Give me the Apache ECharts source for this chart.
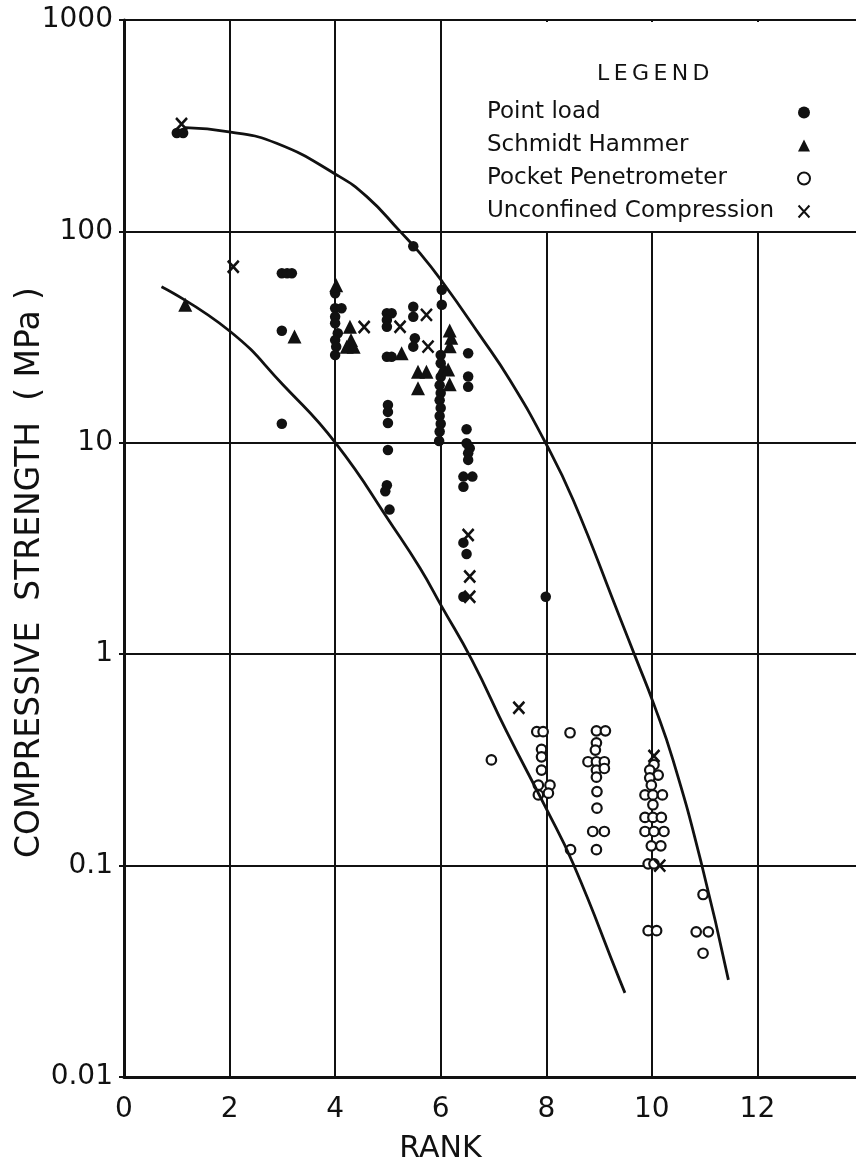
<!DOCTYPE html>
<html>
<head>
<meta charset="utf-8">
<title>Compressive strength vs rank</title>
<script src="https://cdn.jsdelivr.net/npm/echarts@6/dist/echarts.min.js"></script>
<style>
  html, body { margin: 0; padding: 0; background: #fff; }
  #chart { width: 856px; height: 1171px; }
</style>
</head>
<body>
<div id="chart"></div>
<script>
// [rank, strength MPa]
const pointLoad = [
  [1.0, 292], [1.12, 292],
  [2.99, 63.4], [3.09, 63.4], [3.18, 63.4], [2.99, 33.9], [2.99, 12.3],
  [4.0, 51], [4.0, 43.3], [4.12, 43.3], [4.0, 39.5], [4.0, 36.8], [4.05, 33], [4.0, 30.6], [4.02, 28.5], [4.0, 26],
  [4.98, 41], [5.07, 41], [4.98, 38.1], [4.98, 35.4], [4.98, 25.5], [5.07, 25.5], [5.0, 15.1], [5.0, 14.0],
  [5.0, 12.4], [5.0, 9.25], [4.98, 6.3], [4.95, 5.9], [5.03, 4.83],
  [5.48, 85], [5.48, 44], [5.48, 39.5], [5.51, 31.2], [5.48, 28.5],
  [6.02, 53], [6.02, 45], [6.0, 26], [6.0, 23.8], [6.0, 20.5], [5.98, 18.7], [6.0, 17.2], [5.98, 15.9],
  [6.0, 14.6], [5.98, 13.4], [6.0, 12.3], [5.98, 11.3], [5.97, 10.2],
  [6.52, 26.5], [6.52, 20.6], [6.52, 18.4], [6.49, 11.6], [6.49, 9.96], [6.55, 9.42], [6.52, 8.92], [6.52, 8.3],
  [6.43, 6.92], [6.6, 6.92], [6.43, 6.2], [6.43, 3.37], [6.49, 2.98], [6.43, 1.87],
  [7.99, 1.87],
];
const schmidtHammer = [
  [1.16, 45], [3.23, 31.8], [4.02, 55.7], [4.28, 35.4], [4.3, 30.6], [4.22, 28.5], [4.35, 28.5],
  [5.26, 26.5], [5.57, 21.7], [5.73, 21.7], [5.57, 18.1],
  [6.17, 34], [6.2, 31.4], [6.17, 28.6], [6.05, 22.6], [6.14, 22.2], [6.17, 18.9],
];
const pocketPenetrometer = [
  [6.96, 0.316], [7.82, 0.43], [7.94, 0.43], [8.45, 0.425], [7.91, 0.355], [7.91, 0.327], [7.91, 0.283],
  [7.85, 0.24], [8.07, 0.24], [7.85, 0.216], [8.04, 0.22], [8.46, 0.119],
  [8.95, 0.434], [9.12, 0.434], [8.95, 0.381], [8.93, 0.352], [8.79, 0.31], [8.95, 0.31], [9.1, 0.31],
  [8.95, 0.283], [9.1, 0.288], [8.95, 0.262], [8.96, 0.224], [8.96, 0.187], [8.88, 0.145], [9.1, 0.145], [8.95, 0.119],
  [10.04, 0.3], [9.96, 0.283], [10.12, 0.268], [9.96, 0.26], [9.99, 0.24], [9.87, 0.216], [10.02, 0.216],
  [10.2, 0.216], [10.02, 0.194], [9.87, 0.169], [10.02, 0.169], [10.18, 0.169], [9.87, 0.145], [10.04, 0.145],
  [10.23, 0.145], [9.99, 0.124], [10.17, 0.124], [9.93, 0.102], [10.04, 0.102], [9.93, 0.0492], [10.09, 0.0492],
  [10.97, 0.073], [10.84, 0.0486], [11.07, 0.0486], [10.97, 0.0385],
];
const unconfinedCompression = [
  [1.09, 322], [2.07, 68], [4.55, 35.3], [5.23, 35.4], [5.73, 40.3], [5.76, 28.5],
  [6.52, 3.66], [6.55, 2.33], [6.55, 1.87], [7.48, 0.558], [10.04, 0.33], [10.15, 0.1],
];
// envelope curves
const upperCurve = [
  [1.16, 310], [1.99, 296], [2.89, 261], [4.03, 185], [4.6, 146], [5.23, 100], [5.61, 78.7], [6.03, 57.8],
  [6.74, 32.3], [7.31, 19.8], [7.99, 9.95], [8.51, 5.36], [9.39, 1.5], [9.71, 0.94], [10.03, 0.587],
  [10.4, 0.316], [10.94, 0.102], [11.45, 0.0288],
];
const lowerCurve = [
  [0.71, 54.7], [2.0, 33.8], [3.02, 18.7], [4.01, 9.96], [5.1, 4.0], [5.61, 2.55],
  [6.02, 1.68], [6.59, 0.94], [7.25, 0.43], [7.98, 0.19], [8.51, 0.102], [9.39, 0.0288], [9.49, 0.025],
];
const legendNames = ['Point load', 'Schmidt Hammer', 'Pocket Penetrometer', 'Unconfined Compression'];
const xTicks = [0, 2, 4, 6, 8, 10, 12];

const ink = '#111111';
const font = 'DejaVu Sans';
const crossPath = 'path://M0,0L10,11M10,0L0,11';

const chart = echarts.init(document.getElementById('chart'));

const option = {
  animation: false,
  backgroundColor: '#fff',
  title: {
    text: 'L\u2009E\u2009G\u2009E\u2009N\u2009D',
    left: 597,
    top: 63,
    padding: 0,
    textStyle: { fontFamily: font, fontSize: 22, fontWeight: 'normal', color: ink },
  },
  legend: {
    data: legendNames,
    orient: 'vertical',
    align: 'right', // 图标在文字右边
    left: 478,
    top: 22,
    padding: [79, 50, 8, 9],
    backgroundColor: '#fff',
    itemWidth: 12,
    itemHeight: 12,
    itemGap: 10,
    selectedMode: false,
    formatter: (name) => '{t|' + name + '}',
    textStyle: {
      rich: {
        t: { width: 306, align: 'left', fontFamily: font, fontSize: 23, lineHeight: 24, color: ink },
      },
    },
  },
  grid: {
    left: 124,
    top: 20,
    width: 739, // x 0..14, right edge cut by the page
    height: 1057,
    containLabel: false,
    outerBoundsMode: 'none',
  },
  xAxis: {
    type: 'value',
    min: 0,
    max: 14,
    interval: 2,
    name: 'RANK',
    nameLocation: 'middle',
    nameGap: 57,
    nameMoveOverlap: false,
    nameTextStyle: { fontFamily: font, fontSize: 30, color: ink, padding: [0, 106, 0, 0] },
    axisLine: { lineStyle: { color: ink, width: 3 } },
    axisTick: { show: false },
    axisLabel: {
      margin: 19,
      fontFamily: font,
      fontSize: 28,
      color: ink,
      formatter: (v) => (xTicks.indexOf(v) >= 0 ? String(v) : ''),
    },
    splitLine: { show: true, lineStyle: { color: ink, width: 2 } },
  },
  yAxis: {
    type: 'log',
    logBase: 10,
    min: 0.01,
    max: 1000,
    name: 'COMPRESSIVE  STRENGTH  ( MPa )',
    nameLocation: 'middle',
    nameGap: 77,
    nameRotate: 90,
    nameMoveOverlap: false, // 名称可以和刻度标签重叠
    nameTextStyle: { fontFamily: font, fontSize: 33, color: ink, padding: [0, 48, 0, 0] },
    axisLine: { show: true, lineStyle: { color: ink, width: 3 } },
    axisTick: { show: true, length: 5, lineStyle: { color: ink, width: 2 } },
    axisLabel: {
      margin: 11,
      fontFamily: font,
      fontSize: 28,
      color: ink,
      formatter: (v) => String(Number(v.toPrecision(3))),
    },
    splitLine: { show: true, lineStyle: { color: ink, width: 2 } },
  },
  series: [
    {
      type: 'line',
      data: upperCurve,
      smooth: 0.5,
      showSymbol: false,
      silent: true,
      lineStyle: { color: ink, width: 2.8 },
    },
    {
      type: 'line',
      data: lowerCurve,
      smooth: 0.5,
      showSymbol: false,
      silent: true,
      lineStyle: { color: ink, width: 2.8 },
    },
    {
      name: 'Point load',
      type: 'scatter',
      data: pointLoad,
      symbol: 'circle',
      symbolSize: 10.5,
      itemStyle: { color: ink, opacity: 1 },
    },
    {
      name: 'Schmidt Hammer',
      type: 'scatter',
      data: schmidtHammer,
      symbol: 'triangle',
      symbolSize: 14,
      itemStyle: { color: ink, opacity: 1 },
    },
    {
      name: 'Pocket Penetrometer',
      type: 'scatter',
      data: pocketPenetrometer,
      symbol: 'circle',
      symbolSize: 9.5,
      itemStyle: { color: '#fff', borderColor: ink, borderWidth: 2.2, opacity: 1 },
    },
    {
      name: 'Unconfined Compression',
      type: 'scatter',
      data: unconfinedCompression,
      symbol: crossPath,
      symbolSize: [11, 12],
      itemStyle: { color: 'none', borderColor: ink, borderWidth: 2.6, opacity: 1 },
    },
  ],
};

chart.setOption(option);
</script>
</body>
</html>
